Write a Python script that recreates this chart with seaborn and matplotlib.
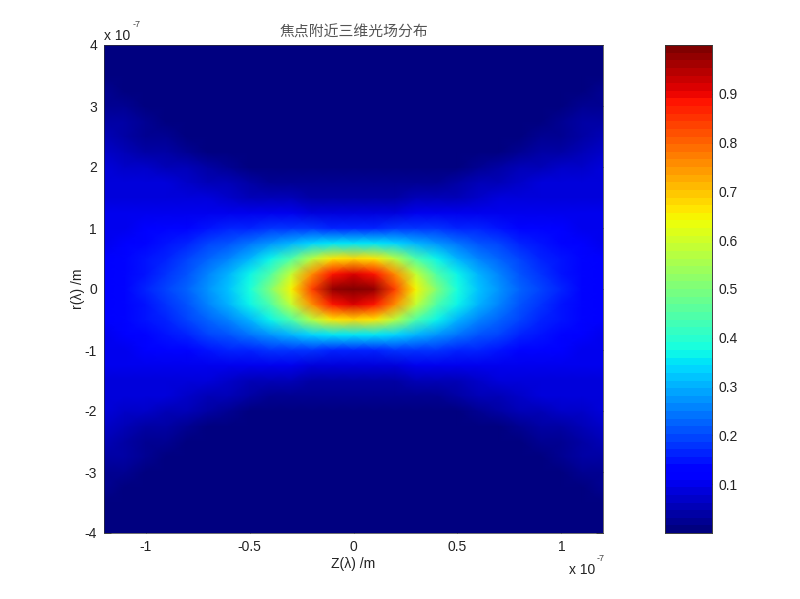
import numpy as np
import matplotlib
matplotlib.use('Agg')
import matplotlib.pyplot as plt
import seaborn as sns

# axis values, z and r in units of 1e-7 m (upper right quadrant of the field)
z_values = [0.0, 0.1, 0.2, 0.3, 0.4, 0.5, 0.6, 0.7, 0.8, 0.9, 1.0, 1.1, 1.2]
r_values = [0.0, 0.25, 0.5, 0.75, 1.0, 1.25, 1.5, 1.75, 2.0, 2.25, 2.5, 2.75, 3.0, 3.25, 3.5, 3.75, 4.0]

# one row per r value
intensity = [
    [1.00, 0.97, 0.83, 0.65, 0.50, 0.39, 0.32, 0.27, 0.22, 0.19, 0.16, 0.13, 0.11],
    [0.92, 0.89, 0.76, 0.58, 0.45, 0.36, 0.30, 0.25, 0.21, 0.18, 0.155, 0.13, 0.11],
    [0.68, 0.66, 0.57, 0.45, 0.37, 0.31, 0.26, 0.23, 0.20, 0.17, 0.145, 0.125, 0.11],
    [0.35, 0.35, 0.33, 0.30, 0.27, 0.24, 0.21, 0.19, 0.17, 0.15, 0.13, 0.12, 0.105],
    [0.17, 0.17, 0.18, 0.18, 0.18, 0.17, 0.16, 0.145, 0.135, 0.125, 0.115, 0.105, 0.10],
    [0.08, 0.085, 0.09, 0.095, 0.10, 0.105, 0.105, 0.105, 0.10, 0.10, 0.10, 0.10, 0.095],
    [0.04, 0.04, 0.04, 0.05, 0.055, 0.06, 0.07, 0.08, 0.085, 0.09, 0.09, 0.09, 0.09],
    [0.02, 0.02, 0.02, 0.025, 0.03, 0.04, 0.05, 0.06, 0.07, 0.08, 0.085, 0.09, 0.09],
    [0.008, 0.01, 0.01, 0.01, 0.012, 0.015, 0.025, 0.035, 0.05, 0.06, 0.07, 0.075, 0.08],
    [0.005, 0.005, 0.005, 0.005, 0.005, 0.008, 0.01, 0.015, 0.025, 0.035, 0.045, 0.055, 0.07],
    [0.005, 0.005, 0.005, 0.005, 0.005, 0.005, 0.005, 0.008, 0.012, 0.02, 0.03, 0.04, 0.055],
    [0.005, 0.005, 0.005, 0.005, 0.005, 0.005, 0.005, 0.005, 0.008, 0.015, 0.025, 0.035, 0.045],
    [0.005, 0.005, 0.005, 0.005, 0.005, 0.005, 0.005, 0.005, 0.005, 0.008, 0.012, 0.02, 0.03],
    [0.005, 0.005, 0.005, 0.005, 0.005, 0.005, 0.005, 0.005, 0.005, 0.005, 0.01, 0.015, 0.02],
    [0.005, 0.005, 0.005, 0.005, 0.005, 0.005, 0.005, 0.005, 0.005, 0.005, 0.008, 0.012, 0.015],
    [0.005, 0.005, 0.005, 0.005, 0.005, 0.005, 0.005, 0.005, 0.005, 0.005, 0.005, 0.01, 0.012],
    [0.005, 0.005, 0.005, 0.005, 0.005, 0.005, 0.005, 0.005, 0.005, 0.005, 0.005, 0.005, 0.008],
]

x_ticks = [-1, -0.5, 0, 0.5, 1]
x_tick_labels = ['-1', '-0.5', '0', '0.5', '1']
y_ticks = [-4, -3, -2, -1, 0, 1, 2, 3, 4]
cbar_ticks = [0.1, 0.2, 0.3, 0.4, 0.5, 0.6, 0.7, 0.8, 0.9]

sns.set_theme(style='white')
plt.rcParams['font.family'] = ['Liberation Sans', 'Noto Sans CJK SC']
plt.rcParams['font.size'] = 10

# the field is symmetric, mirror the quadrant
quadrant = np.array(intensity)
right = np.vstack([quadrant[:0:-1], quadrant])
field = np.hstack([right[:, :0:-1], right])
z_full = [-v for v in z_values[:0:-1]] + z_values
r_full = [-v for v in r_values[:0:-1]] + r_values

fig = plt.figure(figsize=(8, 5.99), dpi=100)
ax = fig.add_axes([104 / 800, 1 - 533 / 599, 499 / 800, 488 / 599])
cax = fig.add_axes([665 / 800, 1 - 533 / 599, 47 / 800, 488 / 599])

sns.heatmap(field, ax=ax, cbar_ax=cax, cmap=plt.get_cmap('jet', 64), vmin=0, vmax=1,
            shading='gouraud', xticklabels=False, yticklabels=False)

# gouraud runs from first to last vertex, so the limits are the grid itself
ax.set_xlim(0, len(z_full) - 1)
ax.set_ylim(0, len(r_full) - 1)
ax.set_xticks([np.interp(t, z_full, np.arange(len(z_full))) for t in x_ticks])
ax.set_xticklabels(x_tick_labels)
ax.set_yticks([np.interp(t, r_full, np.arange(len(r_full))) for t in y_ticks])
ax.set_yticklabels([str(t) for t in y_ticks])
ax.tick_params(direction='in', length=5, width=0.5, colors='#222222', labelsize=10, pad=5,
               bottom=True, left=True, top=True, right=True)

for spine in ax.spines.values():
    spine.set_visible(True)
    spine.set_linewidth(0.5)
    spine.set_color('#333333')

ax.set_xlabel('Z(λ) /m', fontsize=10, labelpad=2, color='#222222')
ax.set_ylabel('r(λ) /m', fontsize=10, labelpad=0, color='#222222')
ax.set_title('焦点附近三维光场分布', fontsize=10.7, pad=6, color='#555555')

ax.text(0, 1.004, 'x 10', transform=ax.transAxes, fontsize=10, color='#222222', va='bottom')
ax.text(0.057, 1.032, '-7', transform=ax.transAxes, fontsize=6.5, color='#444444', va='bottom')
ax.text(0.931, -0.090, 'x 10', transform=ax.transAxes, fontsize=10, color='#222222', va='bottom')
ax.text(0.988, -0.062, '-7', transform=ax.transAxes, fontsize=6.5, color='#444444', va='bottom')

cax.set_yticks(cbar_ticks)
cax.set_yticklabels([str(t) for t in cbar_ticks])
cax.tick_params(direction='in', length=4, width=0.5, colors='#222222', labelsize=10, pad=5,
                left=True, right=True)
for spine in cax.spines.values():
    spine.set_visible(True)
    spine.set_linewidth(0.5)
    spine.set_color('#333333')

fig.savefig('out.png', dpi=100)
